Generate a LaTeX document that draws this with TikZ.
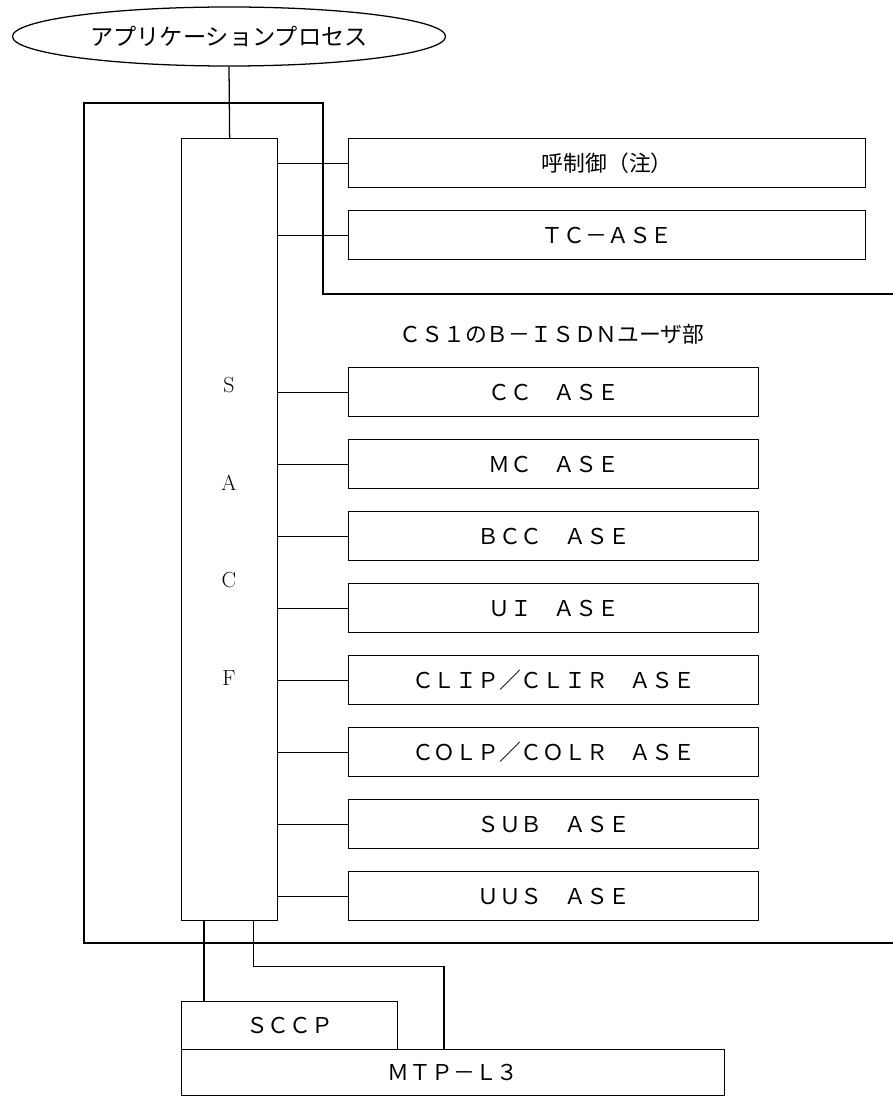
\documentclass[tikz,border=0pt]{standalone}
\usepackage{fontspec}
\newfontfamily\jp{Noto Sans CJK JP}
\usetikzlibrary{shapes.geometric}

\begin{document}
\begin{tikzpicture}[x=0.025cm,y=-0.025cm,line width=0.9pt,
	jptext/.style={font=\jp\fontsize{15.5}{18}\selectfont},
	wide/.style={draw,rectangle,anchor=north west,inner sep=0pt,jptext,minimum width=12.925cm,minimum height=1.225cm},
	ase/.style={wide,minimum width=10.25cm},
	letter/.style={font=\fontsize{15.5}{18}\selectfont}]
		\useasboundingbox (0,0) rectangle (893,1097);
		% application process and SACF
		\node[draw,ellipse,inner sep=0pt,minimum width=10.825cm,minimum height=1.475cm,font=\jp\fontsize{16.5}{18}\selectfont] (app) at (229,36.5) {アプリケーションプロセス};
		\node[draw,rectangle,anchor=north west,inner sep=0pt,minimum width=2.4cm,minimum height=19.55cm] (sacf) at (181,138) {};
		\node[letter] (lS) at (229,385) {S};
		\node[letter] (lA) at (229,483) {A};
		\node[letter] (lC) at (229,580) {C};
		\node[letter] (lF) at (229,678) {F};
		% boundary
		\coordinate (bndA) at (893,294);
		\coordinate (bndB) at (323,103);
		\coordinate (bndC) at (84,943);
		\coordinate (bndD) at (893,943);
		\draw (bndA) -| (bndB) -| (bndC) -- (bndD);
		\draw (app.south) -- (sacf.north);
		% upper boxes
		\node[wide] (call) at (348,138) {呼制御（注）};
		\node[wide] (tc) at (348,210) {ＴＣ－ＡＳＥ};
		\node[jptext] (cs1) at (552,334) {ＣＳ１のＢ－ＩＳＤＮユーザ部};
		% ASEs
		\node[ase] (cc) at (348,367) {ＣＣ　ＡＳＥ};
		\node[ase] (mc) at (348,439) {ＭＣ　ＡＳＥ};
		\node[ase] (bcc) at (348,511) {ＢＣＣ　ＡＳＥ};
		\node[ase] (ui) at (348,583) {ＵＩ　ＡＳＥ};
		\node[ase] (clip) at (348,655) {ＣＬＩＰ／ＣＬＩＲ　ＡＳＥ};
		\node[ase] (colp) at (348,727) {ＣＯＬＰ／ＣＯＬＲ　ＡＳＥ};
		\node[ase] (sub) at (348,799) {ＳＵＢ　ＡＳＥ};
		\node[ase] (uus) at (348,871) {ＵＵＳ　ＡＳＥ};
		\draw (call.west) -- (call.west -| sacf.east);
		\draw (tc.west) -- (tc.west -| sacf.east);
		\draw (cc.west) -- (cc.west -| sacf.east);
		\draw (mc.west) -- (mc.west -| sacf.east);
		\draw (bcc.west) -- (bcc.west -| sacf.east);
		\draw (ui.west) -- (ui.west -| sacf.east);
		\draw (clip.west) -- (clip.west -| sacf.east);
		\draw (colp.west) -- (colp.west -| sacf.east);
		\draw (sub.west) -- (sub.west -| sacf.east);
		\draw (uus.west) -- (uus.west -| sacf.east);
		% lower layers
		\node[wide,minimum width=5.4cm,minimum height=1.2cm] (sccp) at (181,1001) {ＳＣＣＰ};
		\node[wide,minimum width=13.575cm,minimum height=1.15cm] (mtp) at (181,1049) {ＭＴＰ－Ｌ３};
		\draw ([xshift=0.575cm]sacf.south west) -- ([xshift=0.575cm]sccp.north west);
		\draw ([xshift=-0.625cm]sacf.south east) -- ++(0,45) -| ([xshift=6.575cm]mtp.north west);
	\end{tikzpicture}
\end{document}
